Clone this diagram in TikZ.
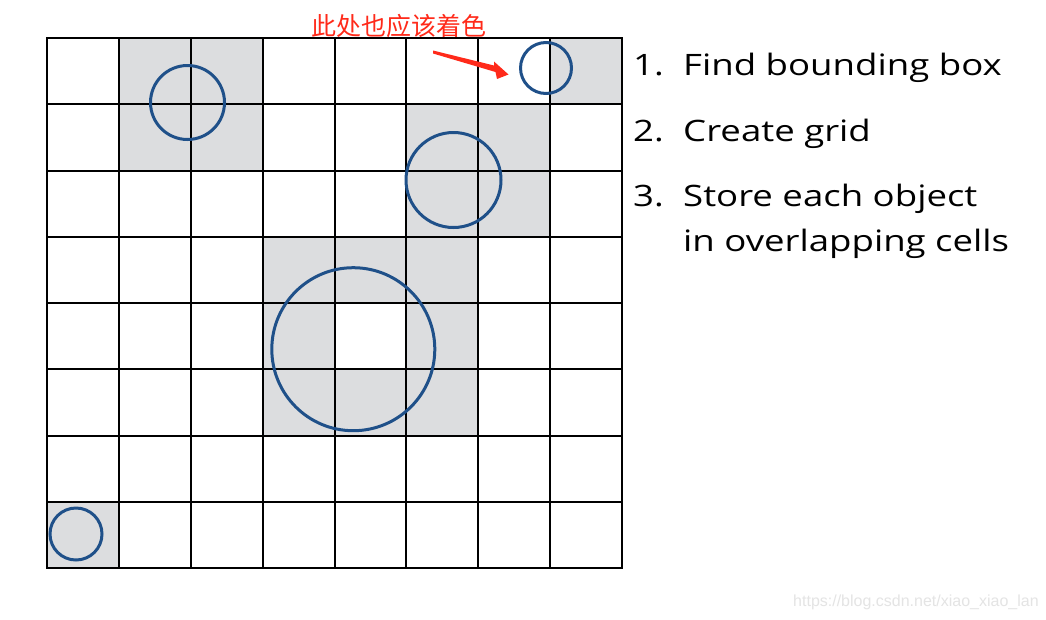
\documentclass[tikz,border=0pt]{standalone}
\usepackage{fontspec}
\setmainfont{Open Sans}
\newfontfamily\listfont[FakeStretch=1.24]{Open Sans}
\newfontfamily\cjkfont{Noto Sans CJK SC}
\newfontfamily\wmfont{Liberation Sans}
\definecolor{cellgray}{HTML}{DCDDDF}
\definecolor{objblue}{HTML}{1F5089}
\definecolor{annred}{HTML}{FF2A1A}
\definecolor{wmgray}{HTML}{E4E4E4}
\tikzset{
  gridline/.style={line width=2pt, black},
  obj/.style={draw=objblue, line width=3pt},
  listnum/.style={anchor=base west, inner sep=0pt, font=\listfont\fontsize{29.5}{34}\selectfont},
  listtxt/.style={anchor=base west, inner sep=0pt, font=\listfont\fontsize{29.5}{34}\selectfont},
}
\begin{document}
\begin{tikzpicture}[x=1pt,y=-1pt]
\useasboundingbox[fill=white] (0,0) rectangle (1046,619);
\begin{scope}[shift={(47,38)},x=71.875pt,y=-66.25pt]
  \foreach \c/\r in {1/0,2/0,7/0,1/1,2/1,5/1,6/1,5/2,6/2,3/3,4/3,5/3,3/4,5/4,3/5,4/5,5/5,0/7}
    \fill[cellgray] (\c,\r) rectangle ++(1,1);
  \foreach \i in {0,...,8} {
    \draw[gridline, line cap=rect] (\i,0) -- (\i,8);
    \draw[gridline, line cap=rect] (0,\i) -- (8,\i);
  }
\end{scope}
\draw[obj] (187.5,102.5) circle[radius=37];
\draw[obj] (546,68) circle[radius=25.5];
\draw[obj] (453.5,180) circle[radius=47.5];
\draw[obj] (353.3,349.2) circle[radius=81.5];
\draw[obj] (76,534) circle[radius=26];
% annotation
\node[text=annred, font=\cjkfont\fontsize{25}{29}\selectfont, inner sep=0pt] (ann) at (398.5,26) {此处也应该着色};
\fill[annred] (433,50.5) -- (494,65.5) -- (494,61.5) -- (508.5,74.5) -- (497,79) -- (495.5,72) -- (433,53.5) -- cycle;
% list
\node[listnum] (n1) at (633,75.7) {1.};
\node[listtxt] (t1) at (683,75.7) {Find bounding box};
\node[listnum] (n2) at (633,141.7) {2.};
\node[listtxt] (t2) at (683,141.7) {Create grid};
\node[listnum] (n3) at (633,206.7) {3.};
\node[listtxt] (t3) at (683,206.7) {Store each object};
\node[listtxt] (t4) at (683,251.7) {in overlapping cells};
% watermark
\node[anchor=base west, inner sep=0pt, text=wmgray, font=\wmfont\fontsize{16}{19}\selectfont] (wm) at (793,606) {https://blog.csdn.net/xiao\_xiao\_lan};
\end{tikzpicture}
\end{document}
